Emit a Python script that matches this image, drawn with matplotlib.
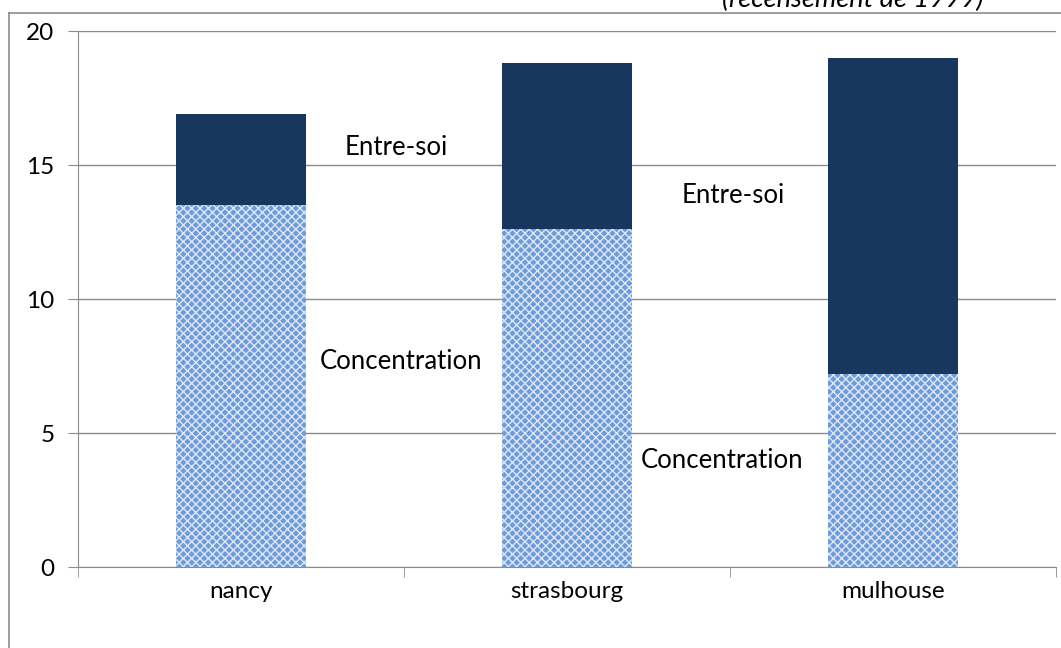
import matplotlib.pyplot as plt
from matplotlib.lines import Line2D

plt.rcParams['font.family'] = ['Lato', 'DejaVu Sans']
plt.rcParams['hatch.linewidth'] = 1.0

villes = ['nancy', 'strasbourg', 'mulhouse']
concentration = [13.5, 12.6, 7.2]
entre_soi = [3.4, 6.2, 11.8]

fig = plt.figure(figsize=(10.61, 6.48), dpi=100)
ax = fig.add_axes([78/1061, 1-567/648, 978/1061, 536/648])

x = range(len(villes))
ax.bar(x, concentration, width=0.4, color='#6f9bd8', edgecolor='#dce8f8',
       hatch='xxxx', linewidth=0, zorder=2)
ax.bar(x, entre_soi, bottom=concentration, width=0.4, color='#17375e',
       linewidth=0, zorder=2)

# etiquettes
ax.text(0.475, 15.67, 'Entre-soi', ha='center', va='center', fontsize=18.5)
ax.text(0.49, 7.65, 'Concentration', ha='center', va='center', fontsize=18.5)
ax.text(1.51, 13.88, 'Entre-soi', ha='center', va='center', fontsize=18.5)
ax.text(1.475, 3.96, 'Concentration', ha='center', va='center', fontsize=18.5)

ax.set_xlim(-0.5, 2.5)
ax.set_ylim(0, 20)
ax.set_yticks([0, 5, 10, 15, 20])
ax.set_xticks([0, 1, 2])
ax.set_xticklabels(villes)
ax.set_xticks([-0.5, 0.5, 1.5, 2.5], minor=True)
ax.tick_params(axis='x', which='major', length=0, pad=10, labelsize=17.5)
ax.tick_params(axis='x', which='minor', length=7, color='#8c8c8c', direction='out')
ax.tick_params(axis='y', length=7, color='#8c8c8c', labelsize=17.5, pad=10)
ax.grid(axis='y', color='#8c8c8c', linewidth=1, zorder=0)

for s in ['top', 'right']:
    ax.spines[s].set_visible(False)
ax.spines['left'].set_color('#8c8c8c')
ax.spines['bottom'].set_color('#8c8c8c')
ax.spines['left'].set_zorder(3)
ax.spines['bottom'].set_zorder(3)

# cadre exterieur
fig.add_artist(Line2D([9/1061, 9/1061], [0, 1-13/648], color='#8c8c8c', linewidth=1.2))
fig.add_artist(Line2D([9/1061, 1], [1-13/648, 1-13/648], color='#8c8c8c', linewidth=1.2))

fig.text(853/1061, 1-7/648, '(recensement de 1999)', ha='center', va='baseline',
         fontsize=19.5, style='italic')

fig.savefig('out.png', dpi=100)
